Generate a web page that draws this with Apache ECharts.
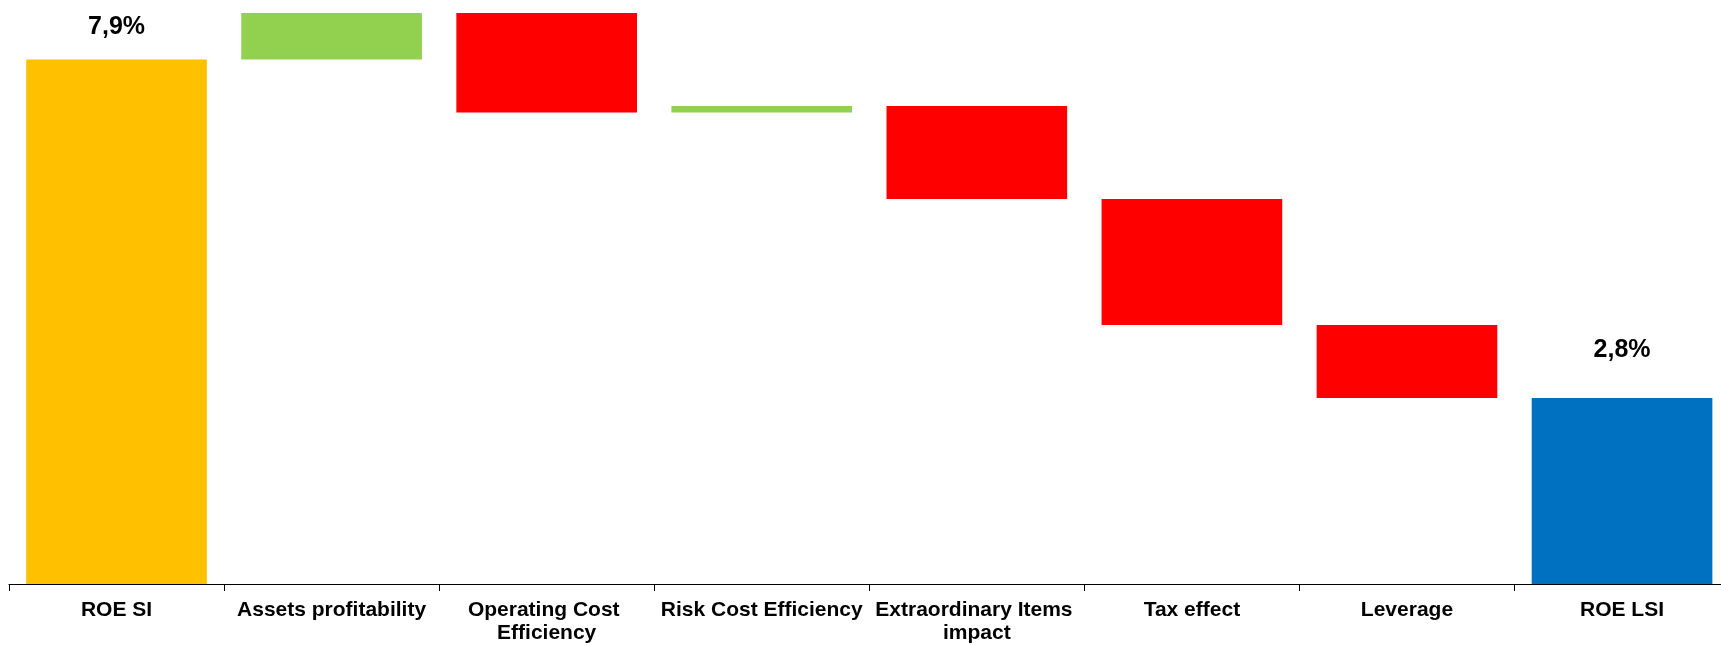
<!DOCTYPE html>
<html>
<head>
<meta charset="utf-8">
<script src="https://cdn.jsdelivr.net/npm/echarts@6/dist/echarts.min.js"></script>
<style>
  html, body { margin: 0; padding: 0; background: #ffffff; overflow: hidden; }
  /* canvas a bit wider than the window: last category runs past the right edge */
  #chart { width: 1730px; height: 645px; }
</style>
</head>
<body>
<div id="chart"></div>
<script>
// waterfall: ROE SI -> ROE LSI
const categories = ['ROE SI', 'Assets profitability', 'Operating Cost Efficiency', 'Risk Cost Efficiency',
  'Extraordinary Items impact', 'Tax effect', 'Leverage', 'ROE LSI'];
const startValue = 7.9;
const deltas = [0.7, -1.5, 0.1, -1.4, -1.9, -1.1];
const endValue = 2.8;

const colors = {
  start: '#FFC000',
  up: '#92D050',
  down: '#FF0000',
  end: '#0070C0'
};

const round1 = v => Math.round(v * 10) / 10;

// build the invisible base + visible bar for each step
const baseData = [0];
const barData = [{ value: startValue, itemStyle: { color: colors.start }, label: { show: true, distance: 20 } }];
let level = startValue;
deltas.forEach(d => {
  const next = round1(level + d);
  baseData.push(Math.min(level, next));
  barData.push({ value: Math.abs(d), itemStyle: { color: d >= 0 ? colors.up : colors.down } });
  level = next;
});
baseData.push(0);
barData.push({ value: endValue, itemStyle: { color: colors.end }, label: { show: true, distance: 35 } });

const chart = echarts.init(document.getElementById('chart'), null, { renderer: 'canvas' });

chart.setOption({
  animation: false,
  backgroundColor: '#ffffff',
  grid: {
    left: 9,
    right: 0,
    top: 13,
    bottom: 60,
    containLabel: false
  },
  xAxis: {
    type: 'category',
    data: categories,
    axisLine: { show: true, lineStyle: { color: '#000000', width: 1 } },
    axisTick: { show: true, length: 7, lineStyle: { color: '#000000' } },
    axisLabel: {
      interval: 0,
      margin: 15,
      color: '#000000',
      fontFamily: 'Liberation Sans, Arial, sans-serif',
      fontWeight: 'bold',
      fontSize: 21,
      lineHeight: 23,
      width: 210,
      overflow: 'break'
    }
  },
  yAxis: {
    type: 'value',
    min: 0,
    max: 8.6,
    show: false,
    splitLine: { show: false }
  },
  series: [{
    name: 'base',
    type: 'bar',
    stack: 'total',
    barCategoryGap: '16%',
    silent: true,
    itemStyle: { color: 'transparent' },
    data: baseData
  }, {
    name: 'ROE',
    type: 'bar',
    stack: 'total',
    barCategoryGap: '16%',
    label: {
      show: false,
      position: 'top',
      color: '#000000',
      fontFamily: 'Liberation Sans, Arial, sans-serif',
      fontWeight: 'bold',
      fontSize: 25,
      formatter: p => p.value.toFixed(1).replace('.', ',') + '%'
    },
    data: barData
  }]
});
</script>
</body>
</html>
